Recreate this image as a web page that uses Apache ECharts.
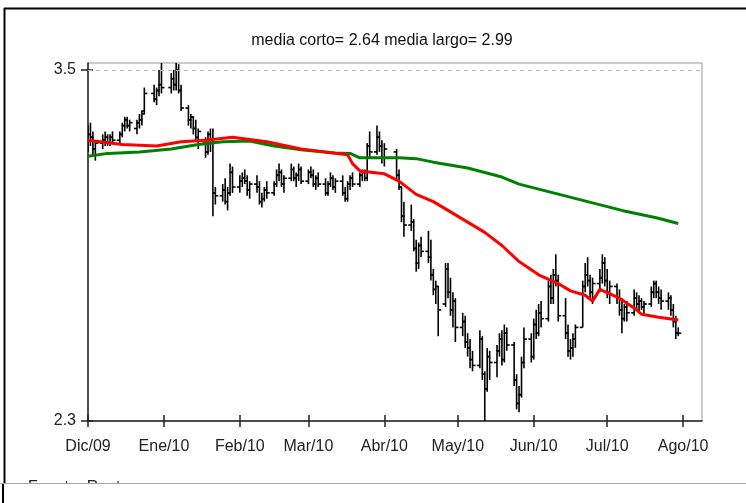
<!DOCTYPE html>
<html>
<head>
<meta charset="utf-8">
<script src="https://cdn.jsdelivr.net/npm/echarts@6/dist/echarts.min.js"></script>
<style>
  html, body { margin: 0; padding: 0; background: #fff; }
  #chart { width: 746px; height: 503px; }
</style>
</head>
<body>
<div id="chart"></div>
<script>
// daily bars per month: [day, open, high, low, close]
const dec09 = [
  [1, 3.26, 3.31, 3.22, 3.28], [2, 3.28, 3.32, 3.24, 3.27], [3, 3.27, 3.29, 3.21, 3.23], [4, 3.23, 3.26, 3.19, 3.25],
  [7, 3.25, 3.28, 3.23, 3.26], [8, 3.26, 3.29, 3.24, 3.27], [9, 3.27, 3.28, 3.24, 3.25], [10, 3.25, 3.28, 3.24, 3.27], [11, 3.27, 3.29, 3.25, 3.26],
  [14, 3.26, 3.29, 3.25, 3.28], [15, 3.28, 3.32, 3.27, 3.31], [16, 3.31, 3.34, 3.29, 3.33], [17, 3.33, 3.34, 3.30, 3.31], [18, 3.31, 3.33, 3.29, 3.32],
  [21, 3.30, 3.33, 3.28, 3.32], [22, 3.32, 3.35, 3.30, 3.33], [23, 3.33, 3.36, 3.31, 3.35], [24, 3.36, 3.44, 3.35, 3.42],
  [28, 3.42, 3.45, 3.39, 3.40], [29, 3.40, 3.44, 3.38, 3.43], [30, 3.43, 3.50, 3.41, 3.45], [31, 3.45, 3.53, 3.42, 3.44]
];
const jan10 = [
  [4, 3.44, 3.49, 3.42, 3.47], [5, 3.47, 3.50, 3.43, 3.45], [6, 3.45, 3.54, 3.43, 3.50], [7, 3.50, 3.52, 3.42, 3.43], [8, 3.43, 3.45, 3.36, 3.37],
  [11, 3.37, 3.38, 3.31, 3.33], [12, 3.33, 3.35, 3.30, 3.34], [13, 3.34, 3.34, 3.28, 3.30], [14, 3.30, 3.33, 3.26, 3.27], [15, 3.27, 3.30, 3.23, 3.29],
  [18, 3.25, 3.27, 3.20, 3.22], [19, 3.22, 3.29, 3.21, 3.28], [20, 3.28, 3.30, 3.22, 3.26], [21, 3.26, 3.30, 3.00, 3.08], [22, 3.08, 3.10, 3.04, 3.07],
  [25, 3.07, 3.11, 3.05, 3.09], [26, 3.09, 3.13, 3.04, 3.05], [27, 3.05, 3.10, 3.02, 3.08], [28, 3.08, 3.18, 3.07, 3.15], [29, 3.15, 3.17, 3.08, 3.10]
];
const feb10 = [
  [1, 3.10, 3.14, 3.08, 3.12], [2, 3.12, 3.15, 3.10, 3.13], [3, 3.13, 3.16, 3.11, 3.12], [4, 3.12, 3.14, 3.07, 3.09], [5, 3.09, 3.12, 3.06, 3.11],
  [8, 3.11, 3.14, 3.08, 3.10], [9, 3.10, 3.12, 3.04, 3.05], [10, 3.05, 3.08, 3.03, 3.06], [11, 3.06, 3.10, 3.05, 3.09], [12, 3.09, 3.12, 3.06, 3.08],
  [15, 3.08, 3.12, 3.07, 3.11], [16, 3.11, 3.16, 3.10, 3.14], [17, 3.14, 3.18, 3.12, 3.15], [18, 3.15, 3.16, 3.10, 3.11], [19, 3.11, 3.14, 3.08, 3.13],
  [22, 3.13, 3.18, 3.12, 3.16], [23, 3.16, 3.17, 3.12, 3.13], [24, 3.13, 3.15, 3.10, 3.14], [25, 3.14, 3.18, 3.12, 3.16], [26, 3.16, 3.17, 3.11, 3.12]
];
const mar10 = [
  [1, 3.12, 3.16, 3.11, 3.15], [2, 3.15, 3.17, 3.13, 3.14], [3, 3.14, 3.16, 3.10, 3.11], [4, 3.11, 3.14, 3.09, 3.13], [5, 3.13, 3.15, 3.10, 3.11],
  [8, 3.11, 3.13, 3.07, 3.08], [9, 3.08, 3.12, 3.07, 3.11], [10, 3.11, 3.15, 3.10, 3.13], [11, 3.13, 3.14, 3.09, 3.10], [12, 3.10, 3.13, 3.08, 3.12],
  [15, 3.12, 3.14, 3.07, 3.08], [16, 3.08, 3.10, 3.05, 3.06], [17, 3.06, 3.12, 3.05, 3.11], [18, 3.11, 3.14, 3.09, 3.13], [19, 3.13, 3.15, 3.10, 3.11],
  [22, 3.11, 3.15, 3.10, 3.14], [23, 3.14, 3.16, 3.12, 3.15], [24, 3.15, 3.16, 3.12, 3.13], [25, 3.13, 3.25, 3.12, 3.24], [26, 3.24, 3.29, 3.20, 3.22],
  [29, 3.22, 3.31, 3.21, 3.27], [30, 3.27, 3.29, 3.22, 3.24], [31, 3.24, 3.26, 3.18, 3.20]
];
const apr10 = [
  [1, 3.20, 3.25, 3.17, 3.23],
  [6, 3.22, 3.23, 3.12, 3.14], [7, 3.14, 3.16, 3.09, 3.10], [8, 3.10, 3.10, 2.98, 3.00], [9, 3.00, 3.05, 2.93, 2.97],
  [12, 2.97, 3.04, 2.95, 2.98], [13, 2.98, 2.99, 2.88, 2.89], [14, 2.89, 2.92, 2.81, 2.84], [15, 2.84, 2.91, 2.82, 2.90], [16, 2.90, 2.93, 2.86, 2.88],
  [19, 2.88, 2.95, 2.84, 2.86], [20, 2.86, 2.92, 2.78, 2.80], [21, 2.80, 2.82, 2.73, 2.75], [22, 2.75, 2.78, 2.70, 2.76], [23, 2.76, 2.76, 2.59, 2.68],
  [26, 2.70, 2.84, 2.69, 2.82], [27, 2.82, 2.84, 2.72, 2.74], [28, 2.74, 2.79, 2.66, 2.68], [29, 2.68, 2.74, 2.62, 2.71], [30, 2.71, 2.72, 2.57, 2.62]
];
const may10 = [
  [3, 2.62, 2.67, 2.59, 2.64], [4, 2.64, 2.66, 2.55, 2.57], [5, 2.57, 2.60, 2.52, 2.55], [6, 2.55, 2.58, 2.48, 2.51], [7, 2.51, 2.54, 2.47, 2.49],
  [10, 2.49, 2.61, 2.48, 2.58], [11, 2.58, 2.59, 2.44, 2.46], [12, 2.46, 2.47, 2.29, 2.41], [13, 2.41, 2.55, 2.40, 2.52], [14, 2.52, 2.54, 2.44, 2.50],
  [17, 2.50, 2.56, 2.45, 2.54], [18, 2.54, 2.60, 2.52, 2.58], [19, 2.58, 2.61, 2.49, 2.51], [20, 2.51, 2.63, 2.50, 2.60], [21, 2.60, 2.62, 2.54, 2.56],
  [24, 2.56, 2.57, 2.42, 2.44], [25, 2.44, 2.46, 2.34, 2.36], [26, 2.36, 2.42, 2.33, 2.39], [27, 2.39, 2.52, 2.38, 2.50], [28, 2.50, 2.62, 2.48, 2.58],
  [31, 2.58, 2.60, 2.50, 2.52]
];
const jun10 = [
  [1, 2.52, 2.65, 2.51, 2.63], [2, 2.63, 2.68, 2.58, 2.60], [3, 2.60, 2.70, 2.59, 2.67], [4, 2.67, 2.71, 2.62, 2.65],
  [7, 2.65, 2.78, 2.64, 2.76], [8, 2.76, 2.80, 2.70, 2.72], [9, 2.72, 2.82, 2.70, 2.80], [10, 2.80, 2.87, 2.76, 2.78], [11, 2.78, 2.80, 2.64, 2.66],
  [14, 2.66, 2.72, 2.58, 2.60], [15, 2.60, 2.63, 2.52, 2.54], [16, 2.54, 2.58, 2.51, 2.55], [17, 2.55, 2.60, 2.52, 2.58], [18, 2.58, 2.63, 2.55, 2.62],
  [21, 2.62, 2.78, 2.62, 2.76], [22, 2.76, 2.84, 2.74, 2.80], [23, 2.80, 2.86, 2.76, 2.78], [24, 2.78, 2.80, 2.72, 2.74], [25, 2.74, 2.79, 2.70, 2.77],
  [28, 2.77, 2.82, 2.74, 2.79], [29, 2.79, 2.87, 2.77, 2.84], [30, 2.84, 2.86, 2.76, 2.78]
];
const jul10 = [
  [1, 2.78, 2.82, 2.72, 2.74], [2, 2.74, 2.78, 2.70, 2.76],
  [5, 2.76, 2.77, 2.70, 2.72], [6, 2.72, 2.75, 2.66, 2.68], [7, 2.68, 2.72, 2.60, 2.65], [8, 2.65, 2.70, 2.64, 2.69], [9, 2.69, 2.71, 2.64, 2.67],
  [12, 2.67, 2.75, 2.66, 2.72], [13, 2.72, 2.74, 2.68, 2.70], [14, 2.70, 2.73, 2.67, 2.71], [15, 2.71, 2.72, 2.68, 2.69], [16, 2.69, 2.71, 2.66, 2.70],
  [19, 2.70, 2.76, 2.69, 2.74], [20, 2.74, 2.78, 2.72, 2.77], [21, 2.77, 2.78, 2.72, 2.74], [22, 2.74, 2.76, 2.70, 2.72], [23, 2.72, 2.75, 2.68, 2.71],
  [26, 2.71, 2.74, 2.68, 2.72], [27, 2.72, 2.73, 2.66, 2.68], [28, 2.68, 2.70, 2.62, 2.64], [29, 2.64, 2.66, 2.58, 2.60], [30, 2.60, 2.62, 2.59, 2.60]
];

// media corto (red) and media largo (green), read at sample dates
const redMA = [
  ['2009-12-01', 3.26], ['2009-12-15', 3.245], ['2009-12-29', 3.24], ['2010-01-08', 3.255], ['2010-01-18', 3.26],
  ['2010-01-29', 3.27], ['2010-02-12', 3.255], ['2010-02-26', 3.23], ['2010-03-12', 3.215], ['2010-03-17', 3.21],
  ['2010-03-19', 3.18], ['2010-03-22', 3.155], ['2010-04-01', 3.145], ['2010-04-07', 3.12], ['2010-04-14', 3.075],
  ['2010-04-21', 3.05], ['2010-04-28', 3.015], ['2010-05-05', 2.98], ['2010-05-12', 2.945], ['2010-05-19', 2.90],
  ['2010-05-26', 2.845], ['2010-06-03', 2.80], ['2010-06-11', 2.77], ['2010-06-16', 2.745], ['2010-06-22', 2.73],
  ['2010-06-25', 2.71], ['2010-06-28', 2.75], ['2010-07-06', 2.72], ['2010-07-13', 2.68], ['2010-07-15', 2.665],
  ['2010-07-22', 2.655], ['2010-07-30', 2.645]
];
const greenMA = [
  ['2009-12-01', 3.205], ['2009-12-09', 3.215], ['2009-12-22', 3.22], ['2010-01-04', 3.23], ['2010-01-15', 3.245],
  ['2010-01-25', 3.255], ['2010-02-05', 3.257], ['2010-02-15', 3.24], ['2010-02-26', 3.227], ['2010-03-12', 3.216],
  ['2010-03-18', 3.215], ['2010-03-22', 3.20], ['2010-04-07', 3.20], ['2010-04-14', 3.197], ['2010-04-21', 3.185],
  ['2010-05-05', 3.165], ['2010-05-19', 3.134], ['2010-05-26', 3.11], ['2010-06-09', 3.08], ['2010-06-23', 3.05],
  ['2010-07-07', 3.02], ['2010-07-21', 2.995], ['2010-07-30', 2.975]
];

const monthStarts = ['2009-12-01', '2010-01-01', '2010-02-01', '2010-03-01', '2010-04-01', '2010-05-01', '2010-06-01', '2010-07-01', '2010-08-01'];
const monthLabels = ['Dic/09', 'Ene/10', 'Feb/10', 'Mar/10', 'Abr/10', 'May/10', 'Jun/10', 'Jul/10', 'Ago/10'];
const yTicks = [2.3, 3.5];
const titleText = 'media corto= 2.64 media largo= 2.99';
const sourceText = 'Fuente: Reuters';

const ts = (s) => new Date(s).getTime();
const DAY = 86400000;

const months = [['2009-12', dec09], ['2010-01', jan10], ['2010-02', feb10], ['2010-03', mar10],
  ['2010-04', apr10], ['2010-05', may10], ['2010-06', jun10], ['2010-07', jul10]];
const bars = [];
months.forEach(([ym, rows]) => {
  rows.forEach((r) => {
    bars.push([ts(ym + '-' + String(r[0]).padStart(2, '0')), r[1], r[2], r[3], r[4]]);
  });
});

const tickTimes = monthStarts.map(ts);
const labelFor = {};
tickTimes.forEach((t, i) => { labelFor[t] = monthLabels[i]; });

const xMin = ts('2009-12-01');
const xMax = xMin + 250.7 * DAY;
const font = 'Liberation Sans, Arial, sans-serif';

function renderBar(params, api) {
  const x = api.value(0);
  const o = api.coord([x, api.value(1)]);
  const h = api.coord([x, api.value(2)]);
  const l = api.coord([x, api.value(3)]);
  const c = api.coord([x, api.value(4)]);
  const st = { stroke: '#000', lineWidth: 1.6 };
  return {
    type: 'group',
    children: [
      { type: 'line', shape: { x1: h[0], y1: h[1], x2: l[0], y2: l[1] }, style: st },
      { type: 'line', shape: { x1: o[0] - 3, y1: o[1], x2: o[0], y2: o[1] }, style: st },
      { type: 'line', shape: { x1: c[0], y1: c[1], x2: c[0] + 3, y2: c[1] }, style: st }
    ]
  };
}

const chart = echarts.init(document.getElementById('chart'));
chart.setOption({
  animation: false,
  backgroundColor: '#fff',
  grid: { left: 88, top: 63, width: 614, height: 358, show: true, borderColor: '#999', borderWidth: 1 },
  xAxis: [
    {
      type: 'value', min: xMin, max: xMax, position: 'bottom',
      axisLine: { lineStyle: { color: '#222', width: 1.5 } },
      axisTick: { show: true, length: 6, customValues: tickTimes, lineStyle: { color: '#222', width: 1.5 } },
      axisLabel: {
        customValues: tickTimes, margin: 18, color: '#222', fontSize: 16, fontFamily: font,
        formatter: (v) => labelFor[v] || ''
      },
      splitLine: { show: false }
    },
    {
      type: 'value', min: xMin, max: xMax, position: 'bottom', offset: 0,
      axisLine: { show: false },
      axisTick: { show: true, inside: true, length: 6, customValues: tickTimes, lineStyle: { color: '#222', width: 1.5 } },
      axisLabel: { show: false },
      splitLine: { show: false }
    }
  ],
  yAxis: [
    {
      type: 'value', min: 2.3, max: 3.524, position: 'left',
      axisLine: { show: true, lineStyle: { color: '#222', width: 1.5 } },
      axisTick: { show: true, length: 7, customValues: yTicks, lineStyle: { color: '#222', width: 1.5 } },
      axisLabel: {
        customValues: yTicks, margin: 12, color: '#222', fontSize: 16, fontFamily: font,
        formatter: (v) => String(v)
      },
      splitLine: { show: false }
    },
    {
      type: 'value', min: 2.3, max: 3.524, position: 'left', offset: 0,
      axisLine: { show: false },
      axisTick: { show: true, inside: true, length: 5, customValues: yTicks, lineStyle: { color: '#222', width: 1.5 } },
      axisLabel: { show: false },
      splitLine: { show: false }
    }
  ],
  series: [
    {
      type: 'custom', renderItem: renderBar, clip: true, z: 2,
      encode: { x: 0, y: [1, 2, 3, 4] },
      data: bars
    },
    {
      type: 'line', name: 'media largo', z: 3, showSymbol: false,
      lineStyle: { color: '#008000', width: 3 },
      data: greenMA.map((p) => [ts(p[0]), p[1]]),
      markLine: {
        silent: true, symbol: 'none', label: { show: false },
        lineStyle: { color: '#bbb', width: 1, type: [4, 4] },
        data: [{ yAxis: 3.5 }]
      }
    },
    {
      type: 'line', name: 'media corto', z: 4, showSymbol: false,
      lineStyle: { color: '#ff0000', width: 3 },
      data: redMA.map((p) => [ts(p[0]), p[1]])
    }
  ],
  graphic: [
    { type: 'line', shape: { x1: 4, y1: 8.5, x2: 746, y2: 8.5 }, style: { stroke: '#000', lineWidth: 2 }, silent: true },
    { type: 'line', shape: { x1: 4.5, y1: 8, x2: 4.5, y2: 483 }, style: { stroke: '#000', lineWidth: 2 }, silent: true },
    {
      type: 'text', x: 382, y: 41, silent: true,
      style: { text: titleText, fill: '#111', font: '16px ' + font, textAlign: 'center', textVerticalAlign: 'middle' }
    },
    {
      type: 'text', x: 28, y: 480, silent: true,
      style: { text: sourceText, fill: '#222', font: '16px ' + font, textAlign: 'left', textVerticalAlign: 'top' }
    },
    { type: 'rect', shape: { x: 0, y: 483, width: 746, height: 20 }, style: { fill: '#fff' }, z: 100, silent: true },
    { type: 'line', shape: { x1: 0, y1: 483.5, x2: 746, y2: 483.5 }, style: { stroke: '#aca899', lineWidth: 1 }, z: 101, silent: true },
    { type: 'line', shape: { x1: 3, y1: 484, x2: 3, y2: 503 }, style: { stroke: '#000', lineWidth: 2 }, z: 101, silent: true }
  ]
});
</script>
</body>
</html>
